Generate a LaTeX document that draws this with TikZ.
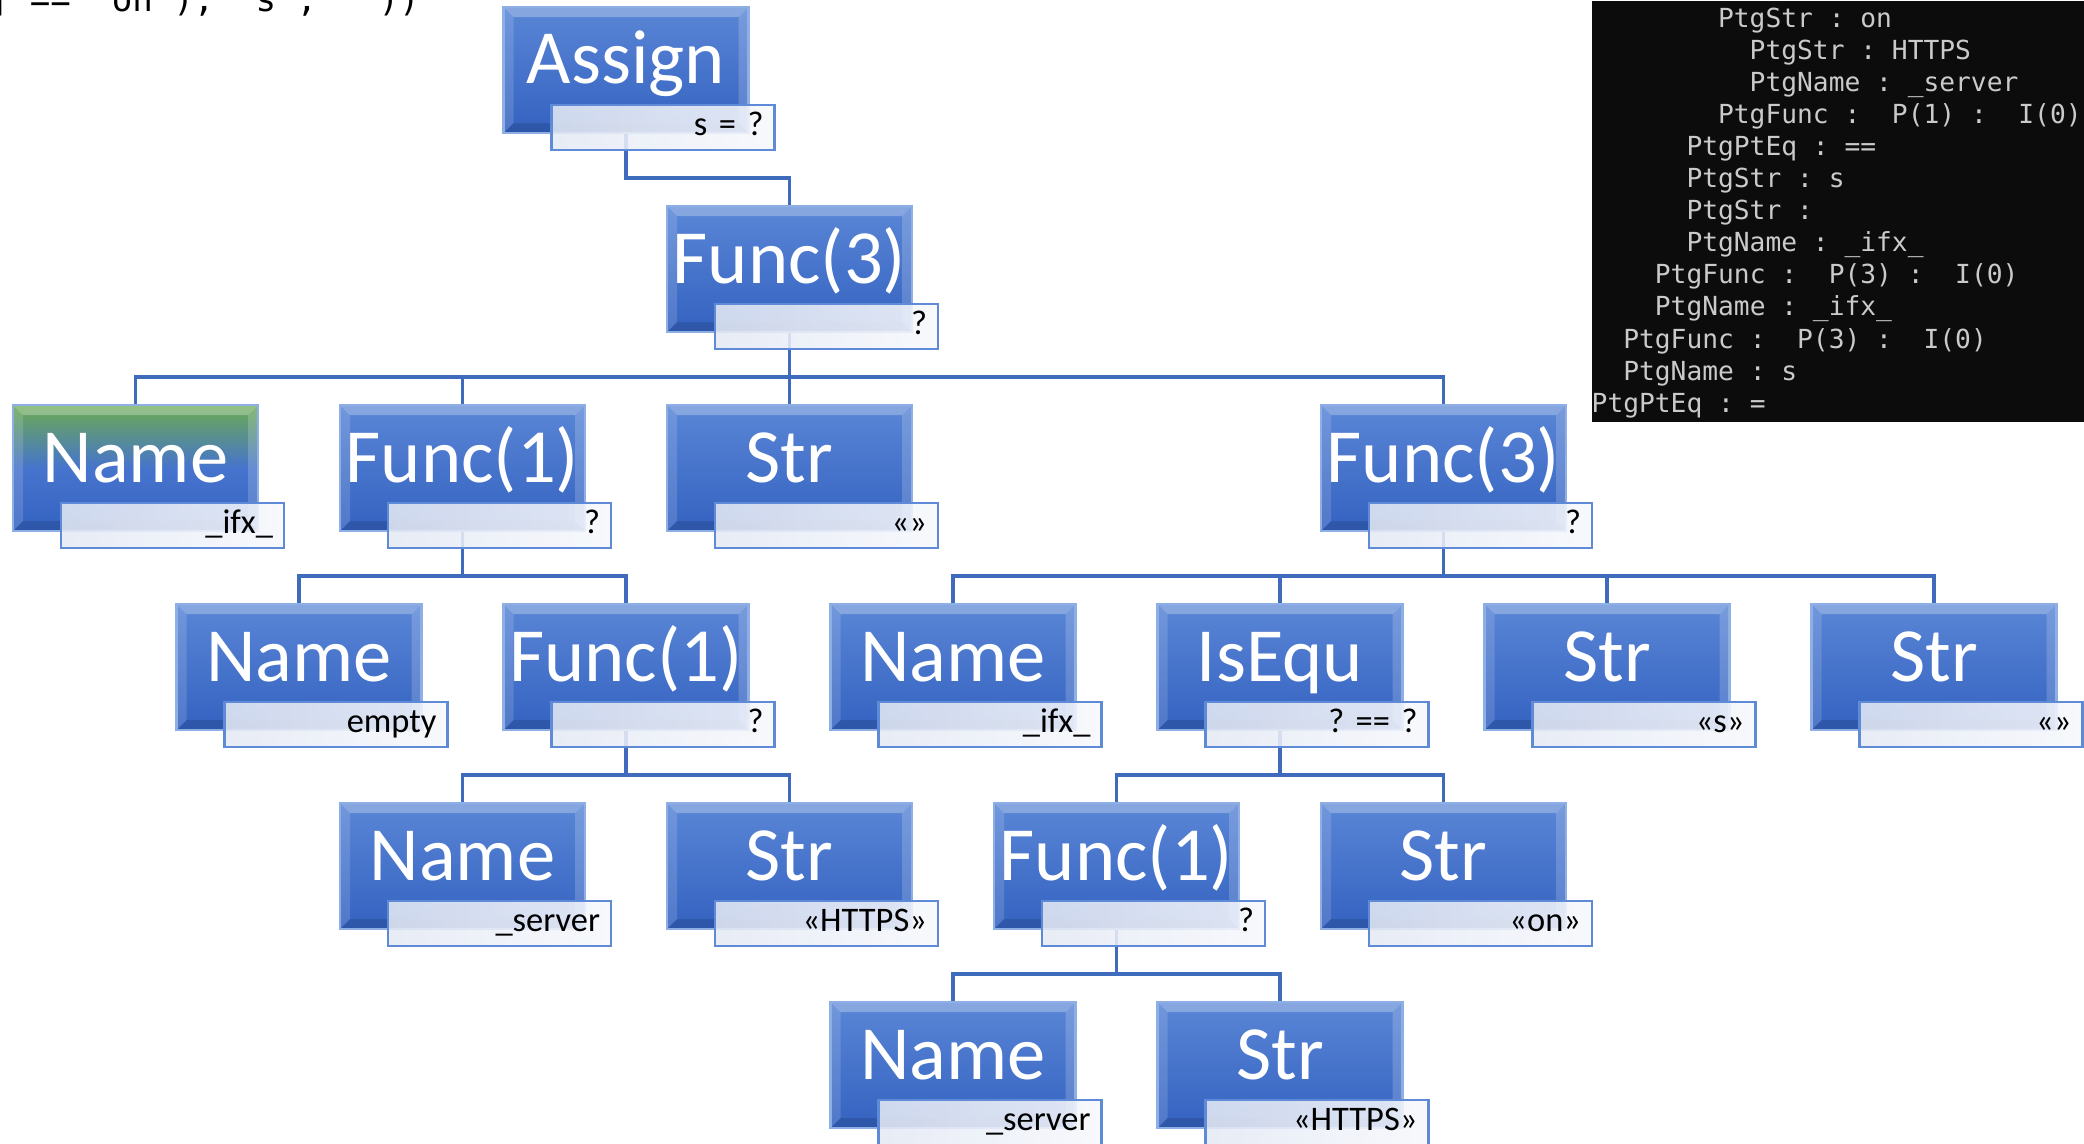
\documentclass[tikz,border=0pt]{standalone}
\usepackage{fontspec}
\setmainfont{Carlito}
\newfontfamily\termfont{DejaVu Sans Mono}
\usetikzlibrary{positioning,calc,backgrounds}
\frenchspacing

\definecolor{boxtop}{HTML}{5A86D6}
\definecolor{boxmid}{HTML}{4674CD}
\definecolor{boxbot}{HTML}{3462C0}
\definecolor{boxrim}{HTML}{8EAEE6}
\definecolor{leaftop}{HTML}{6BAA52}
\definecolor{tagline}{HTML}{5F8AD8}
\definecolor{tagleft}{HTML}{E4E9F4}
\definecolor{tagright}{HTML}{F6F8FC}
\definecolor{wire}{HTML}{3F6BBD}
\definecolor{termbg}{HTML}{0C0C0C}
\definecolor{termtext}{HTML}{CACACA}

\tikzstyle{block} = [draw=boxrim, line width=0.6pt, rectangle, minimum width=2.45cm, minimum height=1.26cm, inner sep=0pt,
  top color=boxtop, bottom color=boxbot, text=white, font=\fontsize{21.8}{22}\selectfont, text height=0.50cm, text depth=0.22cm,
  path picture={
    \fill[white, opacity=0.28] (path picture bounding box.north west) -- (path picture bounding box.north east) -- ++(-0.1,-0.1) -- ++(-2.25,0) -- cycle;
    \fill[white, opacity=0.14] (path picture bounding box.north west) -- ++(0.1,-0.1) -- ++(0,-1.06) -- (path picture bounding box.south west) -- cycle;
    \fill[white, opacity=0.18] (path picture bounding box.north east) -- ++(-0.1,-0.1) -- ++(0,-1.06) -- (path picture bounding box.south east) -- cycle;
    \fill[black, opacity=0.12] (path picture bounding box.south west) -- ++(0.1,0.1) -- ++(2.25,0) -- (path picture bounding box.south east) -- cycle;
  }]
\tikzstyle{leaf} = [block, top color=leaftop, bottom color=boxbot, middle color=boxmid]
\tikzstyle{tag} = [draw=tagline, line width=0.6pt, rectangle, anchor=north west, left color=tagleft, right color=tagright,
  fill opacity=0.88, text opacity=1, text=black, font=\fontsize{9.8}{10}\selectfont, text width=2.01cm, align=right,
  inner xsep=0.11cm, inner ysep=0pt, minimum height=0.45cm, text height=0.20cm, text depth=0.04cm]
\tikzstyle{conn} = [draw=wire, line width=0.9pt]
\tikzstyle{termline} = [anchor=base west, inner sep=0pt, text=termtext, font=\termfont\fontsize{7.47}{9}\selectfont]

\begin{document}
\begin{tikzpicture}
	\useasboundingbox (0,0) rectangle (20.84,-11.43);

	% end of the formula, cut by the top edge
	\node [anchor=base west, inner sep=0pt, font=\termfont\fontsize{9.7}{10}\selectfont] (formula) at (-0.12,-0.12) {] == "on"), "s", ""))};

	% console output
	\node [fill=termbg, minimum width=4.93cm, minimum height=4.21cm, inner sep=0pt, anchor=north west] (term) at (15.91,0) {};
	\foreach \ind/\txt [count=\i] in {8/PtgStr : on, 10/PtgStr : HTTPS, 10/PtgName : \_server, 8/PtgFunc :\ \ P(1) :\ \ I(0),
		6/PtgPtEq : ==, 6/PtgStr : s, 6/PtgStr :, 6/PtgName : \_ifx\_, 4/PtgFunc :\ \ P(3) :\ \ I(0),
		4/PtgName : \_ifx\_, 2/PtgFunc :\ \ P(3) :\ \ I(0), 2/PtgName : s, 0/PtgPtEq : =}
		\node [termline] (t\i) at (15.91+\ind*0.158, 0.051-\i*0.321) {\txt};

	% tree
	\node [block] (assign) at (6.26,-0.70) {Assign};
	\node [tag] (assignval) at ($(assign.south west)+(0.48,0.30)$) {s = ?};

	\node [block] (func3) at (7.895,-2.69) {Func(3)};
	\node [tag] (func3val) at ($(func3.south west)+(0.48,0.30)$) {?};

	\node [leaf] (name1) at (1.355,-4.68) {Name};
	\node [tag] (name1val) at ($(name1.south west)+(0.48,0.30)$) {\_ifx\_};
	\node [block] (func1) at (4.625,-4.68) {Func(1)};
	\node [tag] (func1val) at ($(func1.south west)+(0.48,0.30)$) {?};
	\node [block] (str1) at (7.895,-4.68) {Str};
	\node [tag] (str1val) at ($(str1.south west)+(0.48,0.30)$) {«»};
	\node [block] (func3b) at (14.435,-4.68) {Func(3)};
	\node [tag] (func3bval) at ($(func3b.south west)+(0.48,0.30)$) {?};

	\node [block] (name2) at (2.99,-6.67) {Name};
	\node [tag] (name2val) at ($(name2.south west)+(0.48,0.30)$) {empty};
	\node [block] (func1b) at (6.26,-6.67) {Func(1)};
	\node [tag] (func1bval) at ($(func1b.south west)+(0.48,0.30)$) {?};
	\node [block] (name3) at (9.53,-6.67) {Name};
	\node [tag] (name3val) at ($(name3.south west)+(0.48,0.30)$) {\_ifx\_};
	\node [block] (isequ) at (12.80,-6.67) {IsEqu};
	\node [tag] (isequval) at ($(isequ.south west)+(0.48,0.30)$) {? == ?};
	\node [block] (str2) at (16.07,-6.67) {Str};
	\node [tag] (str2val) at ($(str2.south west)+(0.48,0.30)$) {«s»};
	\node [block] (str3) at (19.34,-6.67) {Str};
	\node [tag] (str3val) at ($(str3.south west)+(0.48,0.30)$) {«»};

	\node [block] (name4) at (4.625,-8.66) {Name};
	\node [tag] (name4val) at ($(name4.south west)+(0.48,0.30)$) {\_server};
	\node [block] (str4) at (7.895,-8.66) {Str};
	\node [tag] (str4val) at ($(str4.south west)+(0.48,0.30)$) {«HTTPS»};
	\node [block] (func1c) at (11.165,-8.66) {Func(1)};
	\node [tag] (func1cval) at ($(func1c.south west)+(0.48,0.30)$) {?};
	\node [block] (str5) at (14.435,-8.66) {Str};
	\node [tag] (str5val) at ($(str5.south west)+(0.48,0.30)$) {«on»};

	\node [block] (name5) at (9.53,-10.65) {Name};
	\node [tag] (name5val) at ($(name5.south west)+(0.48,0.30)$) {\_server};
	\node [block] (str6) at (12.80,-10.65) {Str};
	\node [tag] (str6val) at ($(str6.south west)+(0.48,0.30)$) {«HTTPS»};

	\begin{pgfonlayer}{background}
		\draw [conn] (assign.south) -- ++(0,-0.44) -| (func3.north);
		\draw [conn] (func3.south) -- ++(0,-0.44) -| (name1.north);
		\draw [conn] (func3.south) -- ++(0,-0.44) -| (func1.north);
		\draw [conn] (func3.south) -- ++(0,-0.44) -| (str1.north);
		\draw [conn] (func3.south) -- ++(0,-0.44) -| (func3b.north);
		\draw [conn] (func1.south) -- ++(0,-0.44) -| (name2.north);
		\draw [conn] (func1.south) -- ++(0,-0.44) -| (func1b.north);
		\draw [conn] (func1b.south) -- ++(0,-0.44) -| (name4.north);
		\draw [conn] (func1b.south) -- ++(0,-0.44) -| (str4.north);
		\draw [conn] (func3b.south) -- ++(0,-0.44) -| (name3.north);
		\draw [conn] (func3b.south) -- ++(0,-0.44) -| (isequ.north);
		\draw [conn] (func3b.south) -- ++(0,-0.44) -| (str2.north);
		\draw [conn] (func3b.south) -- ++(0,-0.44) -| (str3.north);
		\draw [conn] (isequ.south) -- ++(0,-0.44) -| (func1c.north);
		\draw [conn] (isequ.south) -- ++(0,-0.44) -| (str5.north);
		\draw [conn] (func1c.south) -- ++(0,-0.44) -| (name5.north);
		\draw [conn] (func1c.south) -- ++(0,-0.44) -| (str6.north);
	\end{pgfonlayer}
\end{tikzpicture}
\end{document}
